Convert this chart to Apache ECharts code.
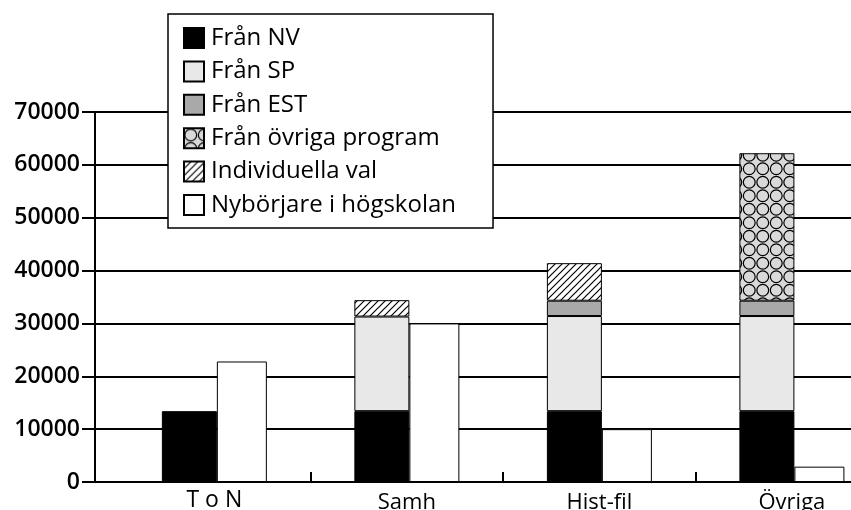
<!DOCTYPE html>
<html>
<head>
<meta charset="utf-8">
<script src="https://cdn.jsdelivr.net/npm/echarts@6/dist/echarts.min.js"></script>
<style>html,body{margin:0;padding:0;background:#fff}#c{width:851px;height:510px}</style>
</head>
<body>
<div id="c"></div>
<script>
var categories = ['T o N', 'Samh', 'Hist-fil', 'Övriga'];
var franNV = [13400, 13400, 13400, 13400];
var franSP = [null, 17900, 18000, 18000];
var franEST = [null, null, 2900, 2900];
var franOvriga = [null, null, null, 27900];
var individuella = [null, 3100, 7100, null];
var nyborjare = [22800, 30000, 10000, 2900];
var yTicks = [0, 10000, 20000, 30000, 40000, 50000, 60000, 70000];
var seriesNames = ['Från NV', 'Från SP', 'Från EST', 'Från övriga program', 'Individuella val', 'Nybörjare i högskolan'];

function hatchPattern() {
  var s = 7, c = document.createElement('canvas');
  c.width = s; c.height = s;
  var g = c.getContext('2d');
  g.fillStyle = '#fff'; g.fillRect(0, 0, s, s);
  g.strokeStyle = '#000'; g.lineWidth = 1.2;
  g.beginPath();
  g.moveTo(-1, s + 1); g.lineTo(s + 1, -1);
  g.moveTo(-1, 1); g.lineTo(1, -1);
  g.moveTo(s - 1, s + 1); g.lineTo(s + 1, s - 1);
  g.stroke();
  return { image: c, repeat: 'repeat' };
}
function circlePattern() {
  var s = 13.5, c = document.createElement('canvas');
  c.width = 27; c.height = 27;
  var g = c.getContext('2d');
  g.fillStyle = '#d9d9d9'; g.fillRect(0, 0, 27, 27);
  g.strokeStyle = '#000'; g.lineWidth = 1.2;
  for (var i = 0; i < 2; i++) for (var j = 0; j < 2; j++) {
    g.beginPath();
    g.arc(s / 2 + i * s, s / 2 + j * s, 5.9, 0, Math.PI * 2);
    g.stroke();
  }
  return { image: c, repeat: 'repeat' };
}

// value first, category position second (encode maps dim1 -> x, dim0 -> y)
function pts(arr) { return arr.map(function (v, i) { return [v, i]; }); }

var chart = echarts.init(document.getElementById('c'), null, { renderer: 'canvas' });
var stackStyle = function (color) { return { color: color, borderColor: '#000', borderWidth: 1 }; };
var stackW = 55, nyW = 50;
var FONT = 'Open Sans';
function mk(name, stack, w, arr, color) {
  return { name: name, type: 'bar', stack: stack, barWidth: w, barGap: '0%',
    encode: { x: 1, y: 0 }, data: pts(arr), itemStyle: stackStyle(color) };
}
var option = {
  animation: false,
  backgroundColor: '#fff',
  textStyle: { fontFamily: FONT, color: '#000' },
  grid: { left: 95, right: 0, top: 112, bottom: 28, containLabel: false, outerBoundsMode: 'none' },
  legend: {
    orient: 'vertical', left: 168, top: 14,
    data: seriesNames.map(function (n) { return { name: n, icon: 'rect' }; }),
    backgroundColor: '#fff', borderColor: '#000', borderWidth: 1.5,
    padding: [12, 37, 11, 15],
    itemWidth: 20, itemHeight: 20, itemGap: 9.4, selectedMode: false,
    textStyle: { fontFamily: FONT, fontSize: 24, color: '#000', lineHeight: 24, padding: [0, 0, 0, 2] },
    z: 10
  },
  xAxis: {
    type: 'value', min: -0.62, max: 3.307,
    axisLine: { show: true, onZero: false, lineStyle: { color: '#000', width: 2 } },
    splitLine: { show: false },
    axisTick: { show: true, customValues: [0.5, 1.5, 2.5], length: 10, inside: true, lineStyle: { color: '#000', width: 2 } },
    axisLabel: {
      customValues: [0, 1, 2, 3], margin: 4,
      formatter: function (v) {
        var k = Math.round(v);
        return k === 0 ? '{t|' + categories[k] + '}' : '{o|' + categories[k] + '}';
      },
      rich: {
        t: { fontFamily: FONT, fontSize: 23, color: '#000', padding: [3, 0, 0, 0] },
        o: { fontFamily: FONT, fontSize: 22, color: '#000', padding: [6, 0, 0, 0] }
      }
    }
  },
  yAxis: {
    type: 'value', min: 0, max: 70000, interval: 10000,
    axisLine: { show: true, onZero: false, lineStyle: { color: '#000', width: 2 } },
    axisTick: { show: true, length: 13, lineStyle: { color: '#000', width: 2 } },
    splitLine: { show: true, lineStyle: { color: '#000', width: 2 } },
    axisLabel: {
      margin: 15, fontFamily: FONT, fontSize: 23, fontWeight: 600, color: '#000',
      customValues: yTicks,
      formatter: function (v) { return String(v); }
    }
  },
  series: [
    mk('Från NV', 's', stackW, franNV, '#000'),
    mk('Från SP', 's', stackW, franSP, '#e8e8e8'),
    mk('Från EST', 's', stackW, franEST, '#a9a9a9'),
    mk('Från övriga program', 's', stackW, franOvriga, circlePattern()),
    mk('Individuella val', 's', stackW, individuella, hatchPattern()),
    mk('Nybörjare i högskolan', 'n', nyW, nyborjare, '#fff')
  ]
};
chart.setOption(option);
</script>
</body>
</html>
